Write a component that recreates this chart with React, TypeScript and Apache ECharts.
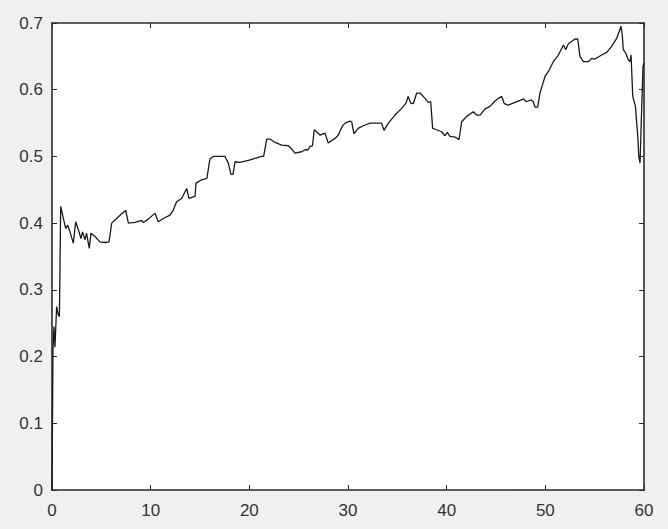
import React, { useEffect, useRef } from "react";
import * as echarts from "echarts";

const xTicks = [0, 10, 20, 30, 40, 50, 60];
const yTicks = [0, 0.1, 0.2, 0.3, 0.4, 0.5, 0.6, 0.7];

const xValues = [
  0, 0.1, 0.2, 0.3, 0.47, 0.64, 0.75, 0.88, 1.15, 1.39, 1.59, 1.82, 2.16, 2.4, 2.67, 2.94, 3.1, 3.34, 3.5, 3.78,
  3.95, 4.36, 4.86, 5.37, 5.78, 6.05, 6.55, 7.06, 7.47, 7.74, 8.41, 9.09, 9.26, 9.76, 10.44, 10.77, 11.28, 11.96,
  12.3, 12.63, 13.14, 13.65, 13.88, 14.49, 14.6, 15.17, 15.7, 16.0, 16.35, 17.53, 17.87, 18.14, 18.35, 18.55, 19.05,
  19.9, 20.57, 21.25, 21.45, 21.76, 22.1, 22.6, 23.28, 23.95, 24.3, 24.63, 25.3, 25.64, 25.96, 26.15, 26.4, 26.58,
  27.16, 27.67, 28.0, 28.17, 28.68, 29.02, 29.4, 29.7, 30.2, 30.37, 30.6, 31.04, 31.55, 32.23, 32.9, 33.4, 33.65,
  34.09, 34.76, 35.44, 35.88, 36.1, 36.35, 36.62, 36.96, 37.3, 37.8, 38.14, 38.38, 38.58, 38.98, 39.49, 39.83,
  40.06, 40.34, 40.84, 41.25, 41.52, 42.03, 42.7, 43.05, 43.39, 43.87, 44.39, 44.9, 45.23, 45.58, 45.84, 46.25,
  46.92, 47.77, 48.1, 48.55, 48.78, 48.95, 49.22, 49.46, 49.97, 50.3, 50.81, 51.32, 51.83, 52.07, 52.33, 53.01,
  53.28, 53.51, 53.85, 54.36, 54.7, 55.03, 55.71, 56.22, 56.72, 57.23, 57.46, 57.67, 57.8, 57.9, 58.15, 58.4,
  58.57, 58.64, 58.69, 58.86, 59.13, 59.37, 59.47, 59.6, 59.73, 59.9, 60,
];

const yValues = [
  0.0, 0.21, 0.245, 0.214, 0.275, 0.262, 0.26, 0.425, 0.407, 0.392, 0.397, 0.387, 0.37, 0.402, 0.39, 0.377, 0.387,
  0.375, 0.385, 0.362, 0.385, 0.38, 0.372, 0.371, 0.372, 0.4, 0.407, 0.414, 0.419, 0.4, 0.401, 0.404, 0.401, 0.406,
  0.415, 0.402, 0.407, 0.412, 0.42, 0.432, 0.437, 0.452, 0.437, 0.44, 0.46, 0.465, 0.467, 0.496, 0.5, 0.5, 0.49,
  0.473, 0.473, 0.492, 0.491, 0.494, 0.497, 0.5, 0.5, 0.526, 0.526, 0.521, 0.517, 0.516, 0.511, 0.505, 0.507, 0.51,
  0.51, 0.515, 0.516, 0.54, 0.532, 0.535, 0.52, 0.522, 0.527, 0.532, 0.545, 0.55, 0.553, 0.552, 0.534, 0.542,
  0.546, 0.55, 0.55, 0.55, 0.539, 0.55, 0.562, 0.572, 0.58, 0.59, 0.58, 0.579, 0.595, 0.595, 0.587, 0.581, 0.582,
  0.542, 0.54, 0.537, 0.531, 0.536, 0.53, 0.529, 0.525, 0.552, 0.56, 0.567, 0.562, 0.562, 0.571, 0.575, 0.583,
  0.587, 0.59, 0.579, 0.577, 0.581, 0.586, 0.582, 0.585, 0.582, 0.574, 0.574, 0.595, 0.62, 0.627, 0.642, 0.652,
  0.667, 0.66, 0.669, 0.676, 0.676, 0.65, 0.642, 0.642, 0.647, 0.646, 0.652, 0.656, 0.665, 0.677, 0.686, 0.695,
  0.682, 0.66, 0.655, 0.645, 0.642, 0.647, 0.652, 0.59, 0.575, 0.53, 0.5, 0.49, 0.555, 0.635, 0.64,
];

const axisColor = "#2b2b2b";
const labelColor = "#333333";

export default function App() {
  const ref = useRef<HTMLDivElement>(null);
  useEffect(() => {
    if (!ref.current) return;
    const chart = echarts.init(ref.current, undefined, { renderer: "svg" });
    const data = xValues.map((x, i) => [x, yValues[i]]);
    const xStep = xTicks[1] - xTicks[0];
    const yStep = yTicks[1] - yTicks[0];
    const common = {
      type: "value" as const,
      splitLine: { show: false },
      axisLine: { show: true, onZero: false, lineStyle: { color: axisColor, width: 1.6 } },
      axisTick: { show: true, inside: true, length: 5, lineStyle: { color: axisColor, width: 1 } },
    };
    chart.setOption({
      animation: false,
      backgroundColor: "#f0f0f0",
      grid: {
        left: 52,
        right: 24,
        top: 23,
        bottom: 39,
        show: true,
        backgroundColor: "#ffffff",
        borderWidth: 0,
      },
      xAxis: [
        {
          ...common,
          position: "bottom",
          min: xTicks[0],
          max: xTicks[xTicks.length - 1],
          interval: xStep,
          axisLabel: {
            show: true,
            margin: 12,
            color: labelColor,
            fontSize: 17,
            fontFamily: "Liberation Sans, Arial, sans-serif",
          },
        },
        {
          ...common,
          position: "top",
          min: xTicks[0],
          max: xTicks[xTicks.length - 1],
          interval: xStep,
          axisLabel: { show: false },
        },
      ],
      yAxis: [
        {
          ...common,
          position: "left",
          min: yTicks[0],
          max: yTicks[yTicks.length - 1],
          interval: yStep,
          axisLabel: {
            show: true,
            margin: 9,
            color: labelColor,
            fontSize: 17,
            fontFamily: "Liberation Sans, Arial, sans-serif",
            formatter: (v: number) => String(Math.round(v * 10) / 10),
          },
        },
        {
          ...common,
          position: "right",
          min: yTicks[0],
          max: yTicks[yTicks.length - 1],
          interval: yStep,
          axisLabel: { show: false },
        },
      ],
      series: [
        {
          type: "line",
          data,
          xAxisIndex: 0,
          yAxisIndex: 0,
          showSymbol: false,
          symbol: "none",
          lineStyle: { color: "#1a1a1a", width: 1.3 },
          silent: true,
        },
      ],
    });
    return () => chart.dispose();
  }, []);
  return (
    <div
      ref={ref}
      style={{ position: "fixed", left: 0, top: 0, width: 668, height: 529 }}
    />
  );
}
